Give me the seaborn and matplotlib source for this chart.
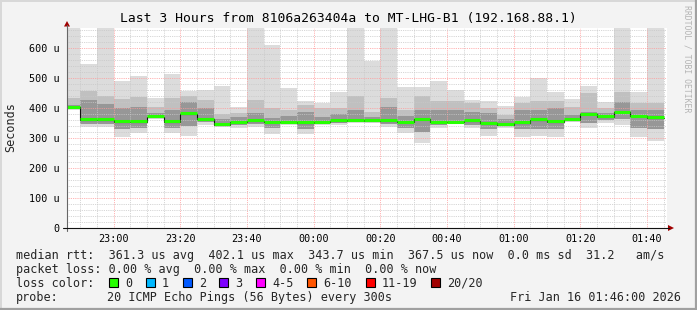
import numpy as np
import pandas as pd
import matplotlib
matplotlib.use("Agg")
import matplotlib.pyplot as plt
from matplotlib.lines import Line2D
from matplotlib.patches import Polygon, Rectangle
import seaborn as sns

# ---------------- data ----------------
title = "Last 3 Hours from 8106a263404a to MT-LHG-B1 (192.168.88.1)"
window_start = pd.Timestamp("2026-01-15 22:46")
window_end = pd.Timestamp("2026-01-16 01:46")
slot_end = pd.date_range("2026-01-15 22:50", periods=36, freq="5min")

# smoke levels per 5-minute slot (microseconds)
rtt_max = [700, 547, 700, 491, 507, 434, 513, 457, 460, 473, 404, 700, 610, 466, 422, 418, 454, 700,
           558, 700, 469, 471, 490, 460, 427, 422, 407, 438, 499, 454, 430, 472, 420, 700, 454, 700]
rtt_hi = [432, 458, 440, 430, 438, 404, 434, 440, 427, 380, 382, 427, 399, 393, 410, 399, 399, 440,
          388, 434, 393, 441, 423, 423, 416, 399, 377, 416, 424, 424, 404, 449, 399, 454, 416, 416]
rtt_mid = [410, 427, 412, 399, 404, 382, 393, 421, 399, 365, 370, 382, 366, 375, 388, 370, 380, 393,
           371, 404, 375, 393, 393, 393, 388, 382, 365, 393, 393, 399, 377, 388, 382, 421, 393, 393]
rtt_median = [402.1, 360, 361, 354, 354, 371, 354, 381, 363, 343.7, 352, 358, 353, 352, 351, 352, 358, 359,
              358, 358, 352, 362, 352, 352, 357, 349, 345, 351, 360, 354, 360, 379, 371, 386, 372, 367.5]
rtt_lo = [396, 348, 348, 330, 335, 368, 335, 340, 352, 340, 345, 348, 335, 348, 330, 348, 350, 353,
          352, 348, 335, 320, 342, 349, 345, 330, 340, 330, 330, 330, 357, 350, 360, 365, 335, 330]
rtt_min = [393, 338, 338, 304, 316, 365, 318, 307, 343, 338, 334, 338, 315, 344, 314, 344, 342, 349,
           349, 336, 318, 284, 333, 347, 333, 307, 333, 303, 306, 304, 355, 334, 349, 345, 304, 289]

y_ticks = [0, 100, 200, 300, 400, 500, 600]
y_labels = ["0", "100 u", "200 u", "300 u", "400 u", "500 u", "600 u"]
x_tick_times = pd.date_range("2026-01-15 23:00", "2026-01-16 01:40", freq="20min")

legend_rtt = "median rtt:  361.3 us avg  402.1 us max  343.7 us min  367.5 us now  0.0 ms sd  31.2   am/s"
legend_loss = "packet loss: 0.00 % avg  0.00 % max  0.00 % min  0.00 % now"
loss_labels = ["0", "1", "2", "3", "4-5", "6-10", "11-19", "20/20"]
loss_colors = ["#26ff00", "#00b8ff", "#0059ff", "#7e00ff", "#ff00ff", "#ff5500", "#ff0000", "#a10000"]
probe_text = "20 ICMP Echo Pings (56 Bytes) every 300s"
stamp_text = "Fri Jan 16 01:46:00 2026"
watermark = "RRDTOOL / TOBI OETIKER"

# ---------------- layout ----------------
W, H = 697, 310
BG = "#f3f3f3"
sns.set_style("white")
plt.rcParams["font.family"] = ["DejaVu Sans Mono"]

def fx(x):
    return x / W

def fy(y):
    return 1 - y / H

fig = plt.figure(figsize=(W / 100, H / 100), dpi=100, facecolor=BG)
ax = fig.add_axes([fx(67), fy(228), 600 / W, 200 / H])
ax.set_facecolor("white")

total_min = (window_end - window_start) / pd.Timedelta(minutes=1)
ends = np.array([(t - window_start) / pd.Timedelta(minutes=1) for t in slot_end])
starts = np.maximum(ends - 5, 0)
widths = ends - starts

mx = np.array(rtt_max); hi = np.array(rtt_hi); md = np.array(rtt_mid)
med = np.array(rtt_median); lo = np.array(rtt_lo); mn = np.array(rtt_min)

ax.bar(starts, mx - mn, bottom=mn, width=widths, align="edge", color="#dcdcdc", lw=0, zorder=1)
ax.bar(starts, hi - lo, bottom=lo, width=widths, align="edge", color="#c0c0c0", lw=0, zorder=1.1)
ax.bar(starts, md - lo, bottom=lo, width=widths, align="edge", color="#979797", lw=0, zorder=1.2)

# median: black step line + green loss-colour segments
df = pd.DataFrame({"t": np.append(starts, ends[-1]), "median": np.append(med, med[-1])})
sns.lineplot(data=df, x="t", y="median", drawstyle="steps-post", color="#111111",
             lw=0.8, estimator=None, ax=ax, zorder=3)
ax.hlines(med + 2, starts, ends, colors="#26ff00", lw=2.2, zorder=4)

ax.set_xlim(0, total_min)
ax.set_ylim(0, 200 / 0.3)

xt = [(t - window_start) / pd.Timedelta(minutes=1) for t in x_tick_times]
ax.set_xticks(xt)
ax.set_xticklabels([t.strftime("%H:%M") for t in x_tick_times])
ax.set_xticks(np.arange(4, total_min, 5), minor=True)
ax.set_yticks(y_ticks)
ax.set_yticklabels(y_labels)
ax.set_yticks(np.arange(0, 667, 20), minor=True)
ax.set_xlabel("")
ax.set_ylabel("")

ax.grid(which="minor", color="#c8c8c8", lw=0.6, ls=(0, (1, 1.2)), zorder=2)
ax.grid(which="major", color="#ff9a9a", lw=0.6, ls=(0, (1, 1.2)), zorder=2.1)
ax.set_axisbelow(False)

ax.tick_params(axis="x", which="major", direction="inout", length=3, width=0.6, pad=2.5,
               labelsize=7.3, colors="#000000")
ax.tick_params(axis="x", which="minor", direction="inout", length=2, width=0.5, color="#888888")
ax.tick_params(axis="y", which="major", direction="inout", length=3, width=0.6, pad=4,
               labelsize=7.3, colors="#000000")
ax.tick_params(axis="y", which="minor", length=0)
for s in ax.spines.values():
    s.set_visible(False)

# axes lines with arrows
fig.add_artist(Line2D([fx(67), fx(67)], [fy(231), fy(25)], color="#666666", lw=0.8))
fig.add_artist(Line2D([fx(63), fx(669)], [fy(228), fy(228)], color="#111111", lw=0.8))
fig.add_artist(Polygon([[fx(64), fy(26.5)], [fx(70), fy(26.5)], [fx(67), fy(21)]], closed=True,
                       color="#a00000", lw=0))
fig.add_artist(Polygon([[fx(668), fy(225)], [fx(668), fy(231)], [fx(674), fy(228)]], closed=True,
                       color="#a00000", lw=0))

# texts
fig.text(fx(348), fy(18.5), title, ha="center", va="center", fontsize=9.4, color="#000000")
fig.text(fx(11), fy(127), "Seconds", ha="center", va="center", rotation=90, fontsize=8.5)
fig.text(fx(687.5), fy(5), watermark, ha="center", va="top", rotation=270, fontsize=5.9,
         color="#b4b4b4")

fs = 8.5
fig.text(fx(16), fy(259), legend_rtt, ha="left", va="baseline", fontsize=fs)
fig.text(fx(16), fy(273), legend_loss, ha="left", va="baseline", fontsize=fs)
fig.text(fx(16), fy(287), "loss color:", ha="left", va="baseline", fontsize=fs)
box_x = [109, 146, 183, 219, 256, 307, 366, 431]
for bx, lab, col in zip(box_x, loss_labels, loss_colors):
    fig.add_artist(Rectangle((fx(bx), fy(287)), 9 / W, 9 / H, facecolor=col, edgecolor="#000000",
                             lw=0.8))
    fig.text(fx(bx + 16), fy(287), lab, ha="left", va="baseline", fontsize=fs)
fig.text(fx(16), fy(301), "probe:", ha="left", va="baseline", fontsize=fs)
fig.text(fx(107), fy(301), probe_text, ha="left", va="baseline", fontsize=fs)
fig.text(fx(681), fy(301), stamp_text, ha="right", va="baseline", fontsize=fs)

# image border (3D frame)
fig.add_artist(Line2D([fx(0.5), fx(0.5)], [0, 1], color="#d8d8d8", lw=1.4))
fig.add_artist(Line2D([0, 1], [fy(0.5), fy(0.5)], color="#d8d8d8", lw=1.4))
fig.add_artist(Line2D([fx(696), fx(696)], [0, 1], color="#a0a0a0", lw=1.6))
fig.add_artist(Line2D([0, 1], [fy(309), fy(309)], color="#a0a0a0", lw=1.6))

fig.savefig("out.png", dpi=100, facecolor=BG)
